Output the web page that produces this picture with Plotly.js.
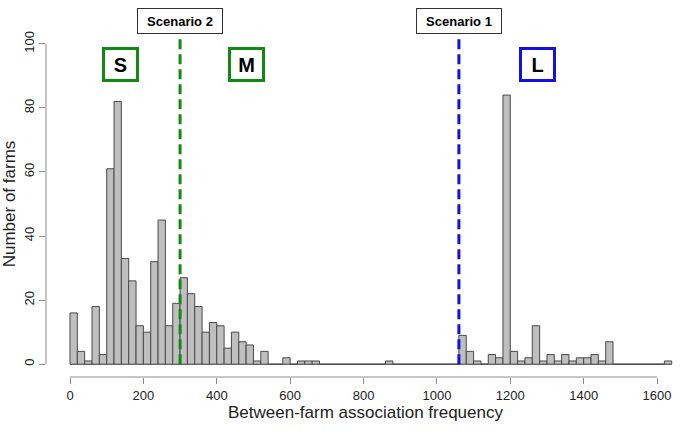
<!DOCTYPE html>
<html>
<head>
<meta charset="utf-8">
<script src="https://cdn.plot.ly/plotly-3.0.1.min.js"></script>
<style>html,body{margin:0;padding:0;background:#fff;}#chart{width:685px;height:434px;}</style>
</head>
<body>
<div id="chart"></div>
<script>
// Histogram bins: width 20, starting at 0
var binWidth = 20;
var binStart = 0;
var counts = [
  16, 4, 1, 18, 3, 61, 82, 33, 26, 12,
  10, 32, 45, 12, 19, 27, 22, 18, 10, 13,
  12, 5, 10, 7, 6, 1, 4, 0, 0, 2,
  0, 1, 1, 1, 0, 0, 0, 0, 0, 0,
  0, 0, 0, 1, 0, 0, 0, 0, 0, 0,
  0, 0, 0, 9, 4, 1, 0, 3, 2, 84,
  4, 1, 2, 12, 1, 3, 1, 3, 1, 2,
  2, 3, 1, 7, 0, 0, 0, 0, 0, 0,
  0, 1
];
var xTicks = [0, 200, 400, 600, 800, 1000, 1200, 1400, 1600];
var yTicks = [0, 20, 40, 60, 80, 100];
var scenario2 = 300;
var scenario1 = 1060;
var groupLabels = ["S", "M", "L"];
var groupCenters = [138, 481, 1273];
var groupColors = ["#118a11", "#118a11", "#1212e0"];

var lefts = counts.map(function(c, i){ return binStart + i * binWidth; });
var lastEdge = binStart + counts.length * binWidth;

var trace = {
  type: 'bar',
  x: lefts,
  y: counts,
  width: binWidth,
  offset: 0,
  marker: {color: '#bfbfbf', line: {color: '#4a4a4a', width: 1}},
  hoverinfo: 'x+y'
};

var shapes = [
  // R-style axis lines
  {type:'line', xref:'x', yref:'paper', x0:xTicks[0], x1:xTicks[xTicks.length-1], y0:0, y1:0, line:{color:'#8c8c8c', width:1}},
  {type:'line', xref:'paper', yref:'y', x0:0, x1:0, y0:yTicks[0], y1:yTicks[yTicks.length-1], line:{color:'#8c8c8c', width:1}},
  // baseline of zero bins
  {type:'line', xref:'x', yref:'y', x0:binStart, x1:lastEdge, y0:0, y1:0, layer:'below', line:{color:'#7a7a7a', width:1}},
  // scenario thresholds
  {type:'line', xref:'x', yref:'y', x0:scenario2, x1:scenario2, y0:0, y1:102.6, line:{color:'#118a11', width:3, dash:'10px,5px'}},
  {type:'line', xref:'x', yref:'y', x0:scenario1, x1:scenario1, y0:0, y1:102.6, line:{color:'#1212e0', width:3, dash:'10px,5px'}}
];

var annotations = [
  {x:scenario2, y:1.029, xref:'x', yref:'paper', xanchor:'center', yanchor:'middle', text:'<b>Scenario 2</b>', showarrow:false,
   font:{family:'Liberation Sans, Arial, sans-serif', size:13, color:'#000'},
   bgcolor:'#fff', bordercolor:'#333', borderwidth:1, borderpad:1, width:82, height:22},
  {x:scenario1, y:1.029, xref:'x', yref:'paper', xanchor:'center', yanchor:'middle', text:'<b>Scenario 1</b>', showarrow:false,
   font:{family:'Liberation Sans, Arial, sans-serif', size:13, color:'#000'},
   bgcolor:'#fff', bordercolor:'#333', borderwidth:1, borderpad:1, width:82, height:22}
];
groupLabels.forEach(function(lbl, i){
  annotations.push({x:groupCenters[i], y:93.6, xref:'x', yref:'y', xanchor:'center', yanchor:'middle', text:'<b>'+lbl+'</b>', showarrow:false,
    font:{family:'Liberation Sans, Arial, sans-serif', size:20, color:'#000'},
    bgcolor:'#fff', bordercolor:groupColors[i], borderwidth:3, borderpad:1, width:29, height:27});
});

var layout = {
  width: 685, height: 434,
  margin: {l:46, r:0, t:31, b:57, pad:0},
  paper_bgcolor:'#fff', plot_bgcolor:'#fff',
  showlegend:false,
  bargap:0,
  font:{family:'Liberation Sans, Arial, sans-serif', color:'#222'},
  xaxis: {
    range:[-65.4, 1676.2], tickmode:'array', tickvals:xTicks, ticktext:xTicks.map(String),
    ticks:'outside', ticklen:6, tickcolor:'#8c8c8c', tickwidth:1,
    showline:false, showgrid:false, zeroline:false,
    tickfont:{size:13, color:'#222'},
    title:{text:'Between-farm association frequency', font:{size:17, color:'#222'}, standoff:4},
    automargin:false, fixedrange:true
  },
  yaxis: {
    range:[-4, 104], tickmode:'array', tickvals:yTicks, ticktext:yTicks.map(String),
    ticks:'outside', ticklen:6, tickcolor:'#8c8c8c', tickwidth:1, tickangle:-90,
    showline:false, showgrid:false, zeroline:false,
    tickfont:{size:13, color:'#222'},
    title:{text:'Number of farms', font:{size:17, color:'#222'}, standoff:6},
    automargin:false, fixedrange:true
  },
  shapes: shapes,
  annotations: annotations
};

Plotly.newPlot('chart', [trace], layout, {displayModeBar:false, staticPlot:true});
</script>
</body>
</html>
